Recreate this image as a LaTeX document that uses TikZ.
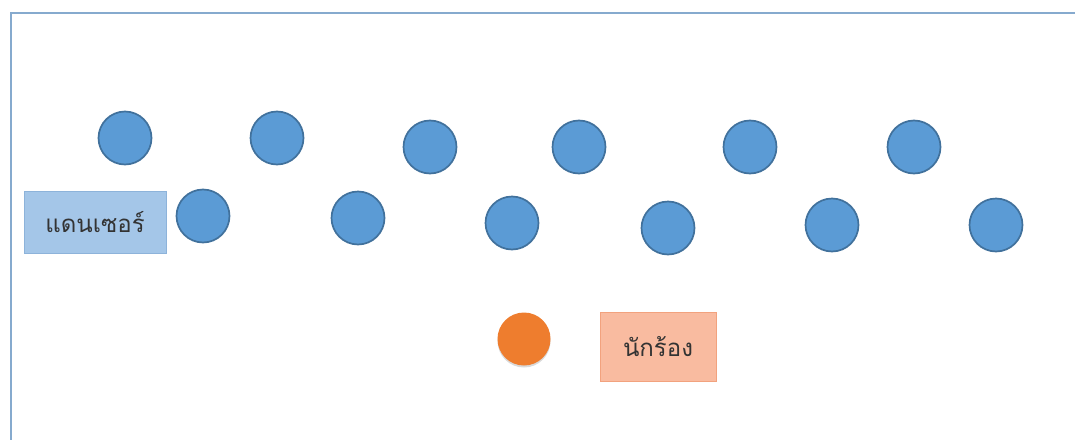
\documentclass[tikz,border=0pt]{standalone}
\usepackage{fontspec}
\newfontfamily\thaifont[Script=Thai]{Loma}
\usetikzlibrary{shadows}
\definecolor{framec}{HTML}{86AACE}
\definecolor{dotfill}{HTML}{5B9BD5}
\definecolor{dotdraw}{HTML}{41719C}
\definecolor{dboxfill}{HTML}{A4C6E8}
\definecolor{dboxdraw}{HTML}{8DB3DA}
\definecolor{sboxfill}{HTML}{F9BBA0}
\definecolor{sboxdraw}{HTML}{F2A27E}
\definecolor{singc}{HTML}{EE7D2E}
\tikzset{
  dancer/.style={circle, fill=dotfill, draw=dotdraw, line width=1.7pt, minimum size=53pt, inner sep=0pt},
  singer/.style={circle, fill=singc, minimum size=53pt, inner sep=0pt,
    drop shadow={shadow xshift=0pt, shadow yshift=-2pt, opacity=0.15, fill=black}},
  labelbox/.style={rectangle, inner sep=0pt, font=\thaifont\fontsize{24}{28}\selectfont, text=black!80}
}
\begin{document}
\begin{tikzpicture}[x=1pt, y=-1pt]
\useasboundingbox (0,0) rectangle (1075,439);
\fill[white] (0,0) rectangle (1075,439);
\begin{scope}
\clip (0,0) rectangle (1075,439);
\draw[framec, line width=2.6pt] (11,13) rectangle (1100,470);
\end{scope}
% top row
\node[dancer] (t1) at (125,138) {};
\node[dancer] (t2) at (277,138) {};
\node[dancer] (t3) at (430,147) {};
\node[dancer] (t4) at (579,147) {};
\node[dancer] (t5) at (750,147) {};
\node[dancer] (t6) at (914,147) {};
% bottom row
\node[dancer] (b1) at (203,216) {};
\node[dancer] (b2) at (358,218) {};
\node[dancer] (b3) at (512,223) {};
\node[dancer] (b4) at (668,228) {};
\node[dancer] (b5) at (832,225) {};
\node[dancer] (b6) at (996,225) {};
% labels
\node[labelbox, fill=dboxfill, draw=dboxdraw, line width=1pt, minimum width=142pt, minimum height=62pt] (dl) at (95,222) {แดนเซอร์};
\node[singer] (s) at (524,339) {};
\node[labelbox, fill=sboxfill, draw=sboxdraw, line width=1pt, minimum width=116pt, minimum height=69pt] (sl) at (658,346.5) {นักร้อง};
\end{tikzpicture}
\end{document}
